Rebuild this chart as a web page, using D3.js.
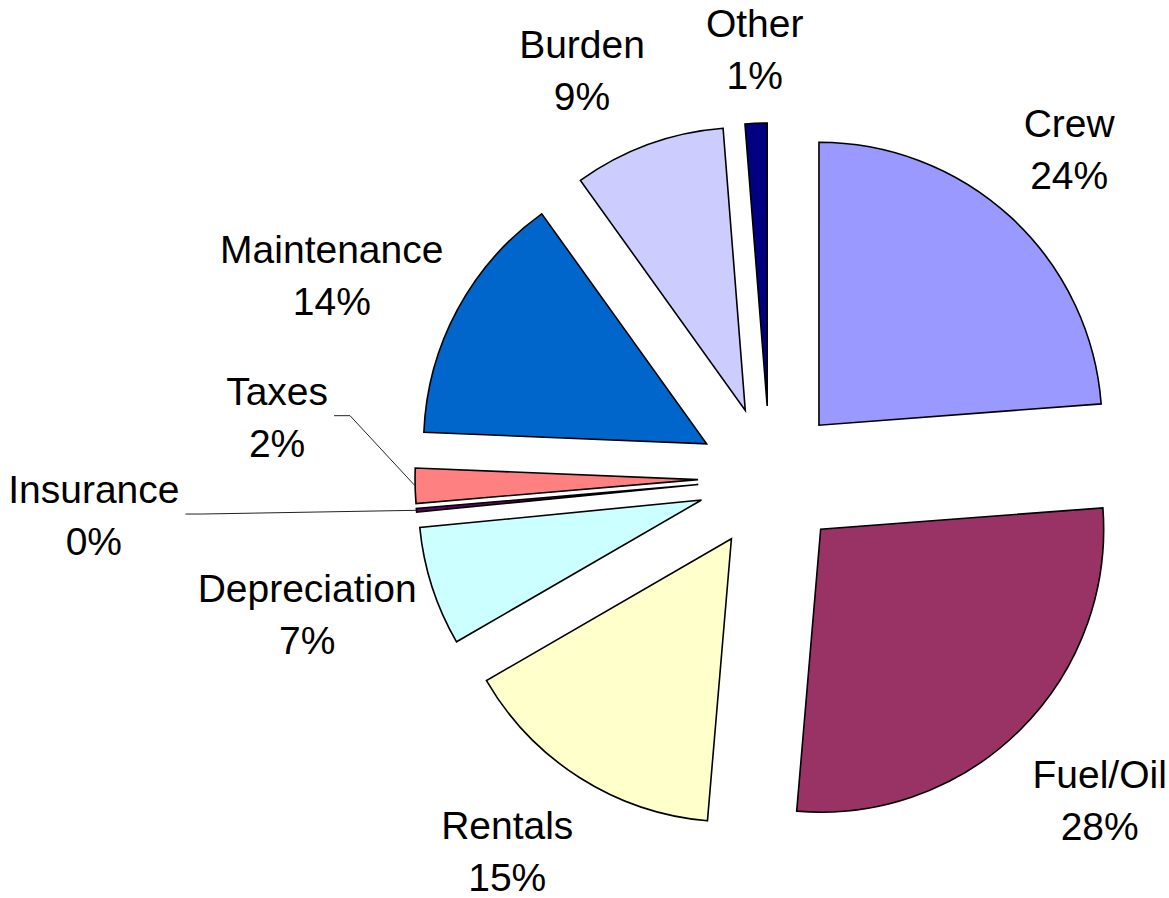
<!DOCTYPE html>
<html>
<head>
<meta charset="utf-8">
<script src="https://cdn.jsdelivr.net/npm/d3@7"></script>
<style>
  html, body { margin: 0; padding: 0; background: #ffffff; }
  svg { display: block; }
</style>
</head>
<body>
<svg id="chart" width="1169" height="898"></svg>
<script>
// ---- data ----
const categories = ["Crew", "Fuel/Oil", "Rentals", "Depreciation", "Insurance", "Taxes", "Maintenance", "Burden", "Other"];
const values     = [23.8, 27.55, 15.3, 6.8, 0.2, 2.0, 14.45, 8.65, 1.25];
const colors     = ["#9999FF", "#993366", "#FFFFCC", "#CCFFFF", "#660066", "#FF8080", "#0066CC", "#CCCCFF", "#000080"];

// ---- layout (not data) ----
const W = 1169, H = 898;
const cx = 770, cy = 478;
const radius = 283;
const explode = 72;
const labelRadius = 440;
const fontSize = 39;
const lineGap = 52;
// label nudges from label-radius centroid (Excel label placement)
const labelNudge = [[0, -5], [20, 10], [-27, 2], [-44, 2], [-238, -2], [-53, -70], [-51, 7], [-37, 6], [2, 12]];
const withLeader = ["Insurance", "Taxes"];

const data = categories.map((c, i) => ({ name: c, value: values[i], color: colors[i], idx: i }));
const total = d3.sum(values);

const svg = d3.select("#chart");
svg.append("rect").attr("width", W).attr("height", H).attr("fill", "#ffffff");

const g = svg.append("g").attr("transform", `translate(${cx},${cy})`);

const pie = d3.pie().value(d => d.value).sort(null);
const arcs = pie(data);

const arc = d3.arc().innerRadius(0).outerRadius(radius);
const explodeArc = d3.arc().innerRadius(explode).outerRadius(explode);
const outerMidArc = d3.arc().innerRadius(explode + radius).outerRadius(explode + radius);
const labelArc = d3.arc().innerRadius(labelRadius).outerRadius(labelRadius);

// slices
g.selectAll("path.slice")
  .data(arcs)
  .join("path")
  .attr("class", "slice")
  .attr("transform", d => {
    const [ox, oy] = explodeArc.centroid(d);
    return `translate(${ox},${oy})`;
  })
  .attr("d", arc)
  .attr("fill", d => d.data.color)
  .attr("stroke", "#000000")
  .attr("stroke-width", 1.6)
  .attr("stroke-linejoin", "miter");

// labels
const labelFont = "'Liberation Sans', Arial, Helvetica, sans-serif";
const labels = g.selectAll("g.label")
  .data(arcs)
  .join("g")
  .attr("class", "label");

labels.each(function(d) {
  const [lx0, ly0] = labelArc.centroid(d);
  const nudge = labelNudge[d.data.idx];
  const lx = lx0 + nudge[0];
  const ly = ly0 + nudge[1];
  const pct = Math.round(d.data.value / total * 100) + "%";
  const t = d3.select(this).append("text")
    .attr("text-anchor", "middle")
    .attr("font-family", labelFont)
    .attr("font-size", fontSize)
    .attr("fill", "#000000");
  t.append("tspan").attr("x", lx).attr("y", ly - 13).text(d.data.name);
  t.append("tspan").attr("x", lx).attr("y", ly - 13 + lineGap).text(pct);

  if (withLeader.includes(d.data.name)) {
    const bb = t.node().getBBox();
    const sx = bb.x + bb.width + 6;
    const sy = ly - 2;
    const [ex, ey] = outerMidArc.centroid(d);
    d3.select(this).append("polyline")
      .attr("points", `${sx},${sy} ${sx + 16},${sy} ${ex},${ey}`)
      .attr("fill", "none")
      .attr("stroke", "#222222")
      .attr("stroke-width", 1);
  }
});
</script>
</body>
</html>
